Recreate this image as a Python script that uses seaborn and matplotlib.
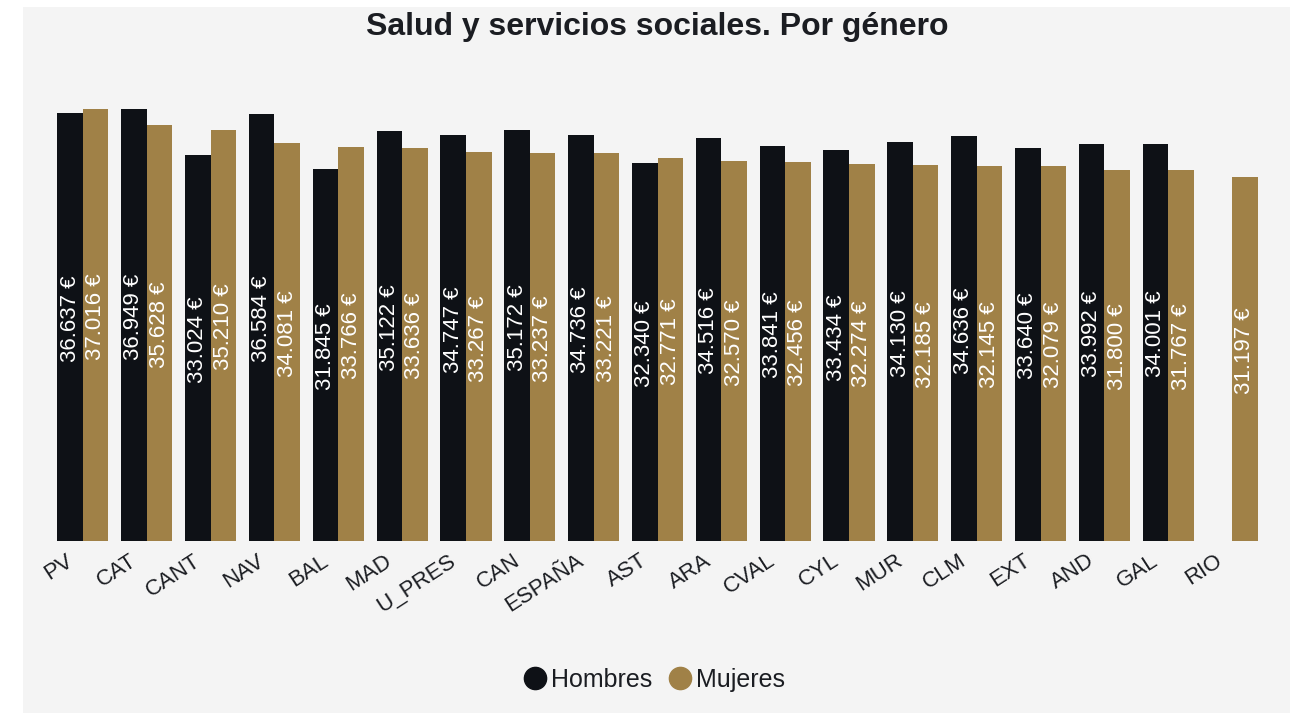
import matplotlib
matplotlib.use("Agg")
import matplotlib.pyplot as plt
import matplotlib.transforms as mtransforms
from matplotlib.lines import Line2D
from matplotlib.patches import Rectangle
import numpy as np
import pandas as pd
import seaborn as sns

REGIONS = [
    "PV", "CAT", "CANT", "NAV", "BAL", "MAD", "U_PRES", "CAN", "ESPAÑA", "AST",
    "ARA", "CVAL", "CYL", "MUR", "CLM", "EXT", "AND", "GAL", "RIO",
]
HOMBRES = [
    36637, 36949, 33024, 36584, 31845, 35122, 34747, 35172, 34736, 32340,
    34516, 33841, 33434, 34130, 34636, 33640, 33992, 34001, np.nan,
]
MUJERES = [
    37016, 35628, 35210, 34081, 33766, 33636, 33267, 33237, 33221, 32771,
    32570, 32456, 32274, 32185, 32145, 32079, 31800, 31767, 31197,
]
SERIES = ["Hombres", "Mujeres"]
COLORS = {"Hombres": "#0e1116", "Mujeres": "#a08147"}
BG = "#f4f4f4"
TEXT = "#1b1d22"


def fmt_euro(v):
    return f"{v:,.0f}".replace(",", ".") + " €"


df = pd.DataFrame({
    "region": REGIONS * 2,
    "genero": ["Hombres"] * len(REGIONS) + ["Mujeres"] * len(REGIONS),
    "valor": HOMBRES + MUJERES,
})

sns.set_theme(style="white")
plt.rcParams["font.family"] = ["Liberation Sans", "DejaVu Sans"]

W, H = 1290, 713
fig = plt.figure(figsize=(W / 100, H / 100), dpi=100, facecolor="white")
# grey panel (slightly offset from the left/top edge as in the original)
fig.patches.append(Rectangle((23 / W, 0), 1, 1 - 7 / H, transform=fig.transFigure,
                             facecolor=BG, edgecolor="none", zorder=-1))

ax = fig.add_axes([51 / W, 172 / H, 1213 / W, 454 / H])
ax.set_facecolor("none")

sns.barplot(
    data=df, x="region", y="valor", hue="genero",
    order=REGIONS, hue_order=SERIES, palette=COLORS,
    width=0.8, saturation=1, errorbar=None, legend=False, linewidth=0, ax=ax,
)

for cont in ax.containers:
    labels = ["" if np.isnan(v) else fmt_euro(v) for v in cont.datavalues]
    ax.bar_label(cont, labels=labels, label_type="center", rotation=90,
                 color="white", fontsize=16, padding=6)

ax.set_ylim(0, np.nanmax(HOMBRES + MUJERES) * 1.05)
ax.set_xlim(-0.5, len(REGIONS) - 0.5)
ax.set_yticks([])
ax.set_xlabel("")
ax.set_ylabel("")
ax.tick_params(axis="x", length=0, pad=13, labelsize=16, labelcolor=TEXT)
shift = mtransforms.ScaledTranslation(-12 / 100, 0, fig.dpi_scale_trans)
for lab in ax.get_xticklabels():
    lab.set_rotation(33)
    lab.set_ha("right")
    lab.set_va("center")
    lab.set_rotation_mode("anchor")
    lab.set_transform(lab.get_transform() + shift)
sns.despine(ax=ax, left=True, bottom=True)

fig.text(657 / W, 1 - 27 / H, "Salud y servicios sociales. Por género",
         ha="center", va="center", fontsize=23, fontweight="bold", color=TEXT)

handles = [Line2D([], [], marker="o", linestyle="", markersize=16,
                  markerfacecolor=COLORS[s], markeredgecolor=COLORS[s]) for s in SERIES]
fig.legend(handles, SERIES, loc="center", bbox_to_anchor=(654 / W, 1 - 680 / H),
           ncol=2, frameon=False, fontsize=18, handletextpad=0.15,
           columnspacing=0.6, handlelength=1.0, labelcolor=TEXT)

fig.savefig("out.png", dpi=100, facecolor=fig.get_facecolor())
